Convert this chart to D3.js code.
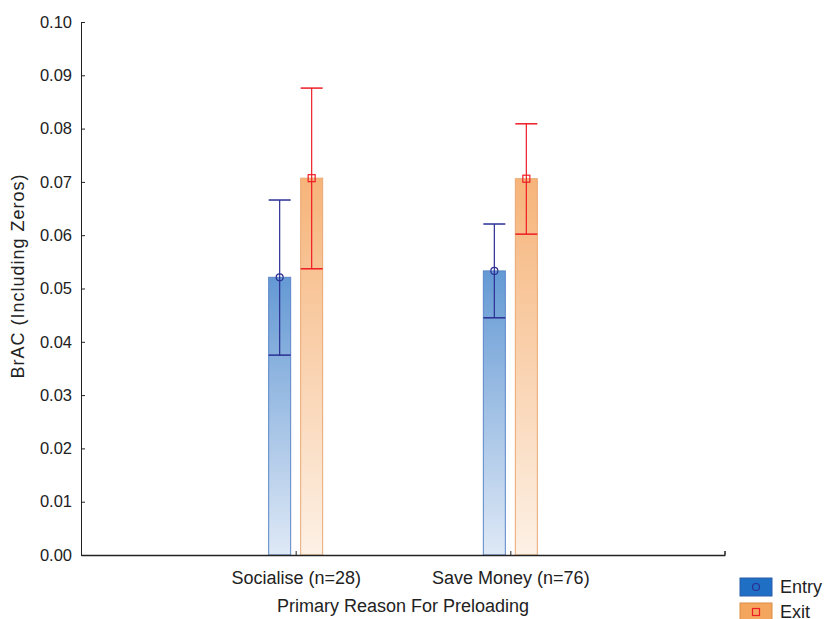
<!DOCTYPE html>
<html>
<head>
<meta charset="utf-8">
<script src="https://cdn.jsdelivr.net/npm/d3@7"></script>
<style>
  body { margin: 0; background: #fff; }
  text { font-family: "Liberation Sans", Arial, sans-serif; fill: #222; }
</style>
</head>
<body>
<div id="chart"></div>
<script>
// Data
const categories = ["Socialise (n=28)", "Save Money (n=76)"];
const seriesNames = ["Entry", "Exit"];
const entryMean = [0.0521, 0.0533];
const entryLow = [0.0375, 0.0445];
const entryHigh = [0.0666, 0.0621];
const exitMean = [0.0707, 0.0706];
const exitLow = [0.0537, 0.0602];
const exitHigh = [0.0876, 0.0809];
const yTicks = [0, 0.01, 0.02, 0.03, 0.04, 0.05, 0.06, 0.07, 0.08, 0.09, 0.10];

const width = 825, height = 619;
const margin = { top: 22, right: 100, bottom: 64, left: 81 };
const innerWidth = width - margin.left - margin.right;
const innerHeight = height - margin.top - margin.bottom;

const svg = d3.select("#chart").append("svg")
    .attr("width", width)
    .attr("height", height);

const defs = svg.append("defs");
const gradEntry = defs.append("linearGradient").attr("id", "gEntry")
    .attr("x1", 0).attr("y1", 0).attr("x2", 0).attr("y2", 1);
gradEntry.append("stop").attr("offset", "0%").attr("stop-color", "#6499d4");
gradEntry.append("stop").attr("offset", "100%").attr("stop-color", "#dfe9f6");
const gradExit = defs.append("linearGradient").attr("id", "gExit")
    .attr("x1", 0).attr("y1", 0).attr("x2", 0).attr("y2", 1);
gradExit.append("stop").attr("offset", "0%").attr("stop-color", "#f6b47a");
gradExit.append("stop").attr("offset", "100%").attr("stop-color", "#fdf1e6");

const chart = svg.append("g")
    .attr("transform", `translate(${margin.left},${margin.top})`);

const x = d3.scalePoint().domain(categories).range([0, innerWidth]).padding(1);
const y = d3.scaleLinear().domain([0, 0.10]).range([innerHeight, 0]);

const barW = 22;
const series = [
    { name: "Entry", mean: entryMean, low: entryLow, high: entryHigh, off: -16,
      fill: "url(#gEntry)", stroke: "#5b86c8", err: "#2b2f93", marker: "circle" },
    { name: "Exit", mean: exitMean, low: exitLow, high: exitHigh, off: 16,
      fill: "url(#gExit)", stroke: "#e9a874", err: "#ee1c25", marker: "square" }
];

// Bars
series.forEach(s => {
    const g = chart.append("g");
    g.selectAll("rect")
        .data(categories)
        .join("rect")
        .attr("x", d => x(d) + s.off - barW / 2)
        .attr("y", (d, i) => y(s.mean[i]))
        .attr("width", barW)
        .attr("height", (d, i) => y(0) - y(s.mean[i]))
        .attr("fill", s.fill)
        .attr("stroke", s.stroke)
        .attr("stroke-width", 1);
});

// Error bars and markers
series.forEach(s => {
    const g = chart.append("g");
    categories.forEach((c, i) => {
        const cx = x(c) + s.off;
        g.append("line")
            .attr("x1", cx).attr("x2", cx)
            .attr("y1", y(s.low[i])).attr("y2", y(s.high[i]))
            .attr("stroke", s.err).attr("stroke-width", 1.2);
        [s.low[i], s.high[i]].forEach(v => {
            g.append("line")
                .attr("x1", cx - 11).attr("x2", cx + 11)
                .attr("y1", y(v)).attr("y2", y(v))
                .attr("stroke", s.err).attr("stroke-width", 1.5);
        });
        if (s.marker === "circle") {
            g.append("circle")
                .attr("cx", cx).attr("cy", y(s.mean[i])).attr("r", 3.5)
                .attr("fill", "none").attr("stroke", s.err).attr("stroke-width", 1.2);
        } else {
            g.append("rect")
                .attr("x", cx - 3.5).attr("y", y(s.mean[i]) - 3.5)
                .attr("width", 7).attr("height", 7)
                .attr("fill", "none").attr("stroke", s.err).attr("stroke-width", 1.2);
        }
    });
});

// Left axis (ticks inside)
const leftAxis = d3.axisLeft(y).tickValues(yTicks).tickFormat(d3.format(".2f"))
    .tickSizeInner(-4).tickSizeOuter(0).tickPadding(9);
const yAxisG = chart.append("g").call(leftAxis);
yAxisG.selectAll("text").style("font-size", "16.5px").attr("fill", "#222");
yAxisG.select(".domain").attr("stroke", "#222");
yAxisG.selectAll(".tick line").attr("stroke", "#222");

// Bottom axis (ticks inside)
const bottomAxis = d3.axisBottom(x).tickSizeInner(-4).tickSizeOuter(0).tickPadding(16);
const xAxisG = chart.append("g")
    .attr("transform", `translate(0,${innerHeight})`)
    .call(bottomAxis);
xAxisG.selectAll("text").style("font-size", "18px").attr("fill", "#222");
xAxisG.select(".domain").attr("stroke", "#222").attr("stroke-width", 1.5);
xAxisG.selectAll(".tick line").attr("stroke", "#222");
xAxisG.append("line")
    .attr("x1", innerWidth).attr("x2", innerWidth)
    .attr("y1", 0).attr("y2", -4)
    .attr("stroke", "#555").attr("stroke-width", 2);

// Axis labels
svg.append("text")
    .text("Primary Reason For Preloading")
    .attr("x", margin.left + innerWidth / 2)
    .attr("y", 612)
    .attr("text-anchor", "middle")
    .style("font-size", "18px");

svg.append("text")
    .text("BrAC (Including Zeros)")
    .attr("transform", `translate(24,276) rotate(-90)`)
    .attr("text-anchor", "middle")
    .style("font-size", "18px")
    .style("letter-spacing", "1px");

// Legend
const legend = svg.append("g").attr("transform", "translate(740,578)");
const legendFill = ["#1f6fc5", "#f4a65f"];
const legendStroke = ["#2b5fa8", "#d98b45"];
seriesNames.forEach((name, i) => {
    const g = legend.append("g").attr("transform", `translate(0,${i * 25})`);
    g.append("rect")
        .attr("width", 32).attr("height", 18)
        .attr("fill", legendFill[i]).attr("stroke", legendStroke[i]);
    if (i === 0) {
        g.append("circle").attr("cx", 16).attr("cy", 9).attr("r", 3.5)
            .attr("fill", "none").attr("stroke", series[0].err).attr("stroke-width", 1.2);
    } else {
        g.append("rect").attr("x", 12.5).attr("y", 5.5).attr("width", 7).attr("height", 7)
            .attr("fill", "none").attr("stroke", series[1].err).attr("stroke-width", 1.2);
    }
    g.append("text")
        .text(name)
        .attr("x", 40).attr("y", 15)
        .style("font-size", "18px");
});
</script>
</body>
</html>
